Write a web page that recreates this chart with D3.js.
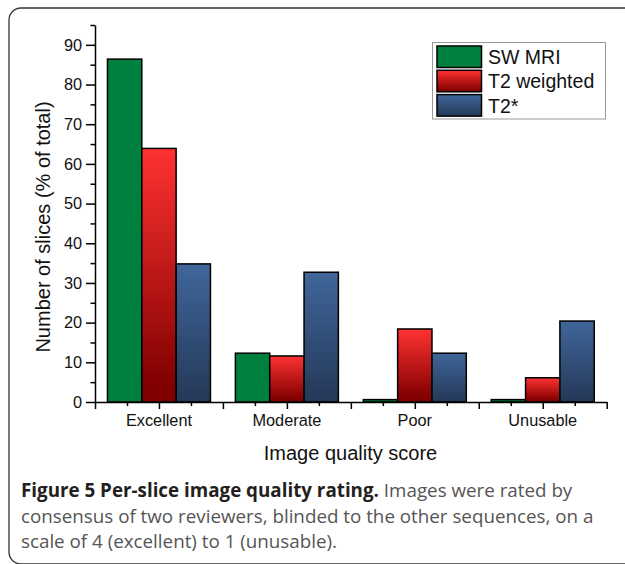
<!doctype html>
<html lang="en">
  <head>
    <meta charset="utf-8">
    <title>Per-slice image quality rating</title>
    <script src="https://d3js.org/d3.v7.min.js"></script>
    <style>
      body { margin: 0; background: #fff; }
      svg { display: block; }
    </style>
  </head>
  <body>
    <div id="chart"></div>

    <script>
      // values (% of slices)
      var categories = ["Excellent", "Moderate", "Poor", "Unusable"];
      var seriesNames = ["SW MRI", "T2 weighted", "T2*"];
      var swMri = [86.4, 12.3, 0.6, 0.6];
      var t2Weighted = [63.9, 11.6, 18.4, 6.1];
      var t2Star = [34.8, 32.7, 12.3, 20.4];
      var yMajorTicks = [0, 10, 20, 30, 40, 50, 60, 70, 80, 90];
      var yMinorTicks = [5, 15, 25, 35, 45, 55, 65, 75, 85, 95];

      var seriesValues = [swMri, t2Weighted, t2Star];
      var fills = ["#00803e", "url(#gradRed)", "url(#gradBlue)"];

      var W = 625, H = 564;
      var plotLeft = 95, plotRight = 606.7, plotTop = 25, plotBottom = 402;

      var svg = d3.select("#chart")
        .append("svg")
          .attr("width", W)
          .attr("height", H);

      // gradients for the red and blue bars
      var defs = svg.append("defs");
      var gr = defs.append("linearGradient").attr("id", "gradRed")
        .attr("x1", 0).attr("y1", 0).attr("x2", 0).attr("y2", 1);
      gr.append("stop").attr("offset", "0%").attr("stop-color", "#ff3232");
      gr.append("stop").attr("offset", "94%").attr("stop-color", "#800000");
      gr.append("stop").attr("offset", "100%").attr("stop-color", "#800000");
      var gb = defs.append("linearGradient").attr("id", "gradBlue")
        .attr("x1", 0).attr("y1", 0).attr("x2", 0).attr("y2", 1);
      gb.append("stop").attr("offset", "0%").attr("stop-color", "#40669a");
      gb.append("stop").attr("offset", "100%").attr("stop-color", "#243857");

      // figure frame
      svg.append("rect")
        .attr("x", 9).attr("y", 8)
        .attr("width", 700).attr("height", 556)
        .attr("rx", 12)
        .attr("fill", "none")
        .attr("stroke", "#333")
        .attr("stroke-width", 1.3);

      // scales
      var x0 = d3.scaleBand()
        .domain(categories)
        .range([plotLeft, plotRight])
        .paddingInner(0.195)
        .paddingOuter(0.0975);

      var x1 = d3.scaleBand()
        .domain(seriesNames)
        .range([0, x0.bandwidth()]);

      var y = d3.scaleLinear()
        .domain([0, 95])
        .range([plotBottom, plotTop]);

      // bars
      seriesNames.forEach(function(name, s) {
        svg.append("g")
          .selectAll("rect")
          .data(seriesValues[s])
          .enter()
          .append("rect")
            .attr("x", function(d, i) { return x0(categories[i]) + x1(name); })
            .attr("y", function(d) { return y(d); })
            .attr("width", x1.bandwidth())
            .attr("height", function(d) { return y(0) - y(d); })
            .attr("fill", fills[s])
            .attr("stroke", "#000")
            .attr("stroke-width", 1.5);
      });

      // y axis
      svg.append("g")
        .attr("transform", "translate(" + plotLeft + ",0)")
        .call(d3.axisLeft(y).tickValues(yMajorTicks).tickSize(9).tickSizeOuter(0).tickPadding(4));
      svg.append("g")
        .attr("transform", "translate(" + plotLeft + ",0)")
        .call(d3.axisLeft(y).tickValues(yMinorTicks).tickSize(4.5).tickSizeOuter(0).tickFormat(""))
        .select(".domain").remove();

      // x axis: major ticks every half category, minor in between
      var xPos = d3.scaleLinear().domain([0, categories.length]).range([plotLeft, plotRight]);
      var xMajor = d3.range(0, categories.length + 0.01, 0.5);
      var xMinor = d3.range(0.25, categories.length, 0.5);
      svg.append("g")
        .attr("transform", "translate(0," + plotBottom + ")")
        .call(d3.axisBottom(xPos).tickValues(xMajor).tickSize(7).tickSizeOuter(0).tickFormat(""));
      svg.append("g")
        .attr("transform", "translate(0," + plotBottom + ")")
        .call(d3.axisBottom(xPos).tickValues(xMinor).tickSize(4).tickFormat(""))
        .select(".domain").remove();
      var xLabels = svg.append("g")
        .attr("transform", "translate(0," + plotBottom + ")")
        .call(d3.axisBottom(x0).tickSize(0).tickPadding(12));
      xLabels.select(".domain").remove();

      svg.selectAll(".domain, .tick line")
        .attr("stroke", "#000")
        .attr("stroke-width", 1.5);
      svg.selectAll(".tick text")
        .attr("font-family", "Arial, 'Liberation Sans', sans-serif")
        .attr("font-size", 16.3)
        .attr("fill", "#111");

      // axis titles
      svg.append("text")
        .attr("transform", "translate(50,227) rotate(-90)")
        .attr("text-anchor", "middle")
        .attr("font-family", "Arial, 'Liberation Sans', sans-serif")
        .attr("font-size", 20)
        .attr("fill", "#111")
        .text("Number of slices (% of total)");

      svg.append("text")
        .attr("x", 350.5).attr("y", 460)
        .attr("text-anchor", "middle")
        .attr("font-family", "Arial, 'Liberation Sans', sans-serif")
        .attr("font-size", 20)
        .attr("fill", "#111")
        .text("Image quality score");

      // legend
      var legend = svg.append("g");
      legend.append("rect")
        .attr("x", 432.5).attr("y", 42.5)
        .attr("width", 173).attr("height", 76.5)
        .attr("fill", "#fff")
        .attr("stroke", "#999")
        .attr("stroke-width", 1);
      seriesNames.forEach(function(name, s) {
        var ry = 46 + s * 24.3;
        legend.append("rect")
          .attr("x", 437).attr("y", ry)
          .attr("width", 44.5).attr("height", 21.5)
          .attr("fill", fills[s])
          .attr("stroke", "#000")
          .attr("stroke-width", 1.5);
        legend.append("text")
          .attr("x", 488).attr("y", ry + 18)
          .attr("font-family", "Arial, 'Liberation Sans', sans-serif")
          .attr("font-size", 19.5)
          .attr("fill", "#111")
          .text(name);
      });

      // caption
      var caption = svg.append("text")
        .attr("font-family", "'Open Sans', sans-serif")
        .attr("font-size", 18.8)
        .attr("fill", "#555");
      var line1 = caption.append("tspan").attr("x", 21).attr("y", 497);
      line1.append("tspan")
        .attr("font-weight", "bold")
        .attr("fill", "#231f20")
        .text("Figure 5 Per-slice image quality rating.");
      line1.append("tspan").text(" Images were rated by");
      caption.append("tspan").attr("x", 21).attr("y", 522.5)
        .text("consensus of two reviewers, blinded to the other sequences, on a");
      caption.append("tspan").attr("x", 21).attr("y", 548)
        .text("scale of 4 (excellent) to 1 (unusable).");
    </script>
  </body>
</html>
